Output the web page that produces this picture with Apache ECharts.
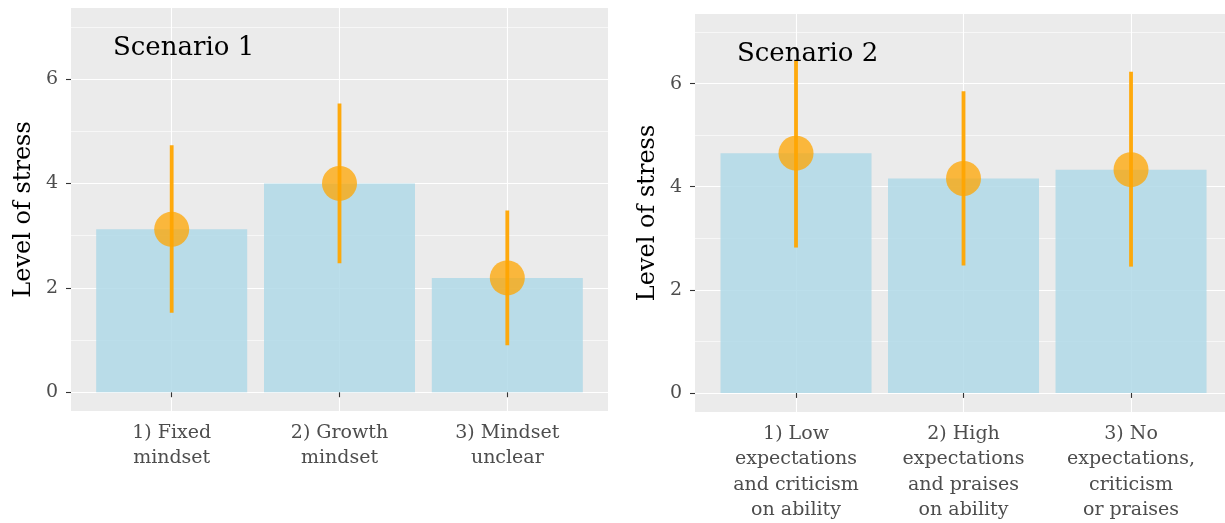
<!DOCTYPE html>
<html><head><meta charset="utf-8">
<script src="https://cdn.jsdelivr.net/npm/echarts@6/dist/echarts.min.js"></script>
<style>html,body{margin:0;padding:0;background:#fff}#c{width:1225px;height:523px}</style>
</head><body><div id="c"></div>
<script>
// ---- data ----
const titles = ['Scenario 1', 'Scenario 2'];
const cats1 = ['1) Fixed\nmindset', '2) Growth\nmindset', '3) Mindset\nunclear'];
const mean1 = [3.12, 4.00, 2.19];
const low1  = [1.52, 2.47, 0.90];
const high1 = [4.73, 5.53, 3.48];
const cats2 = ['1) Low\nexpectations\nand criticism\non ability', '2) High\nexpectations\nand praises\non ability', '3) No\nexpectations,\ncriticism\nor praises'];
const mean2 = [4.65, 4.16, 4.33];
const low2  = [2.82, 2.47, 2.45];
const high2 = [6.45, 5.85, 6.23];
const yMajor = [0, 2, 4, 6];
const yMinor = [1, 3, 5, 7];
const yTitle = 'Level of stress';

const FONT = 'DejaVu Serif';
const panels = [
  {cats: cats1, mean: mean1, low: low1, high: high1, grid: {left: 71, top: 8, width: 537, height: 403}, xmin: 0.4, xmax: 3.6, ymin: -0.36, ymax: 7.36},
  {cats: cats2, mean: mean2, low: low2, high: high2, grid: {left: 695, top: 14, right: 0, height: 398}, xmin: 0.397, xmax: 3.561, ymin: -0.37, ymax: 7.35}
];
const pos = [1, 2, 3];

const option = {animation: false, grid: [], xAxis: [], yAxis: [], series: [], title: []};
panels.forEach((p, i) => {
  option.grid.push(Object.assign({show: true, backgroundColor: '#EBEBEB', borderWidth: 0, containLabel: false}, p.grid));
  option.xAxis.push({
    type: 'value', gridIndex: i, min: p.xmin, max: p.xmax,
    axisLine: {show: false},
    axisTick: {show: true, length: 5, customValues: pos, lineStyle: {color: '#333', width: 1.1}},
    axisLabel: {customValues: pos, formatter: v => p.cats[Math.round(v) - 1], color: '#4D4D4D', fontFamily: FONT, fontSize: 19, lineHeight: 25.5, margin: 9, align: 'center', verticalAlign: 'top'},
    splitLine: {show: true, lineStyle: {color: '#fff', width: 1.1}}
  });
  // major y axis
  option.yAxis.push({
    type: 'value', gridIndex: i, min: p.ymin, max: p.ymax,
    axisLine: {show: false},
    axisTick: {show: true, length: 5, customValues: yMajor, lineStyle: {color: '#333', width: 1.1}},
    axisLabel: {customValues: yMajor, color: '#4D4D4D', fontFamily: FONT, fontSize: 19, margin: 13},
    splitLine: {show: true, lineStyle: {color: '#fff', width: 1.1}},
    name: yTitle, nameLocation: 'middle', nameRotate: 90, nameGap: 35,
    nameTextStyle: {color: '#000', fontFamily: FONT, fontSize: 24}
  });
  // minor grid y axis
  option.yAxis.push({
    type: 'value', gridIndex: i, min: p.ymin, max: p.ymax, position: 'left',
    axisLine: {show: false}, axisLabel: {show: false},
    axisTick: {show: false, customValues: yMinor},
    splitLine: {show: true, lineStyle: {color: '#fff', width: 0.6}}
  });
  option.title.push({text: titles[i], left: p.grid.left + 37, top: p.grid.top + 22,
    textStyle: {fontFamily: FONT, fontWeight: 'normal', fontSize: 26, color: '#000'}});
  option.series.push({
    type: 'bar', xAxisIndex: i, yAxisIndex: 2 * i, barWidth: 151,
    itemStyle: {color: 'rgba(173,216,230,0.82)'},
    data: pos.map((x, k) => [x, p.mean[k]]), z: 2
  });
  option.series.push({
    type: 'custom', xAxisIndex: i, yAxisIndex: 2 * i, z: 3,
    data: pos.map((x, k) => [x, p.low[k], p.high[k]]),
    renderItem: (params, api) => {
      const a = api.coord([api.value(0), api.value(1)]);
      const b = api.coord([api.value(0), api.value(2)]);
      return {type: 'line', shape: {x1: a[0], y1: a[1], x2: b[0], y2: b[1]},
        style: {stroke: 'rgba(255,165,0,0.95)', lineWidth: 3.8}};
    }
  });
  option.series.push({
    type: 'scatter', xAxisIndex: i, yAxisIndex: 2 * i, z: 4, symbolSize: 35,
    itemStyle: {color: 'rgba(255,165,0,0.93)'},
    data: pos.map((x, k) => [x, p.mean[k]])
  });
});
const chart = echarts.init(document.getElementById('c'), null, {renderer: 'canvas'});
chart.setOption(option);
</script></body></html>
